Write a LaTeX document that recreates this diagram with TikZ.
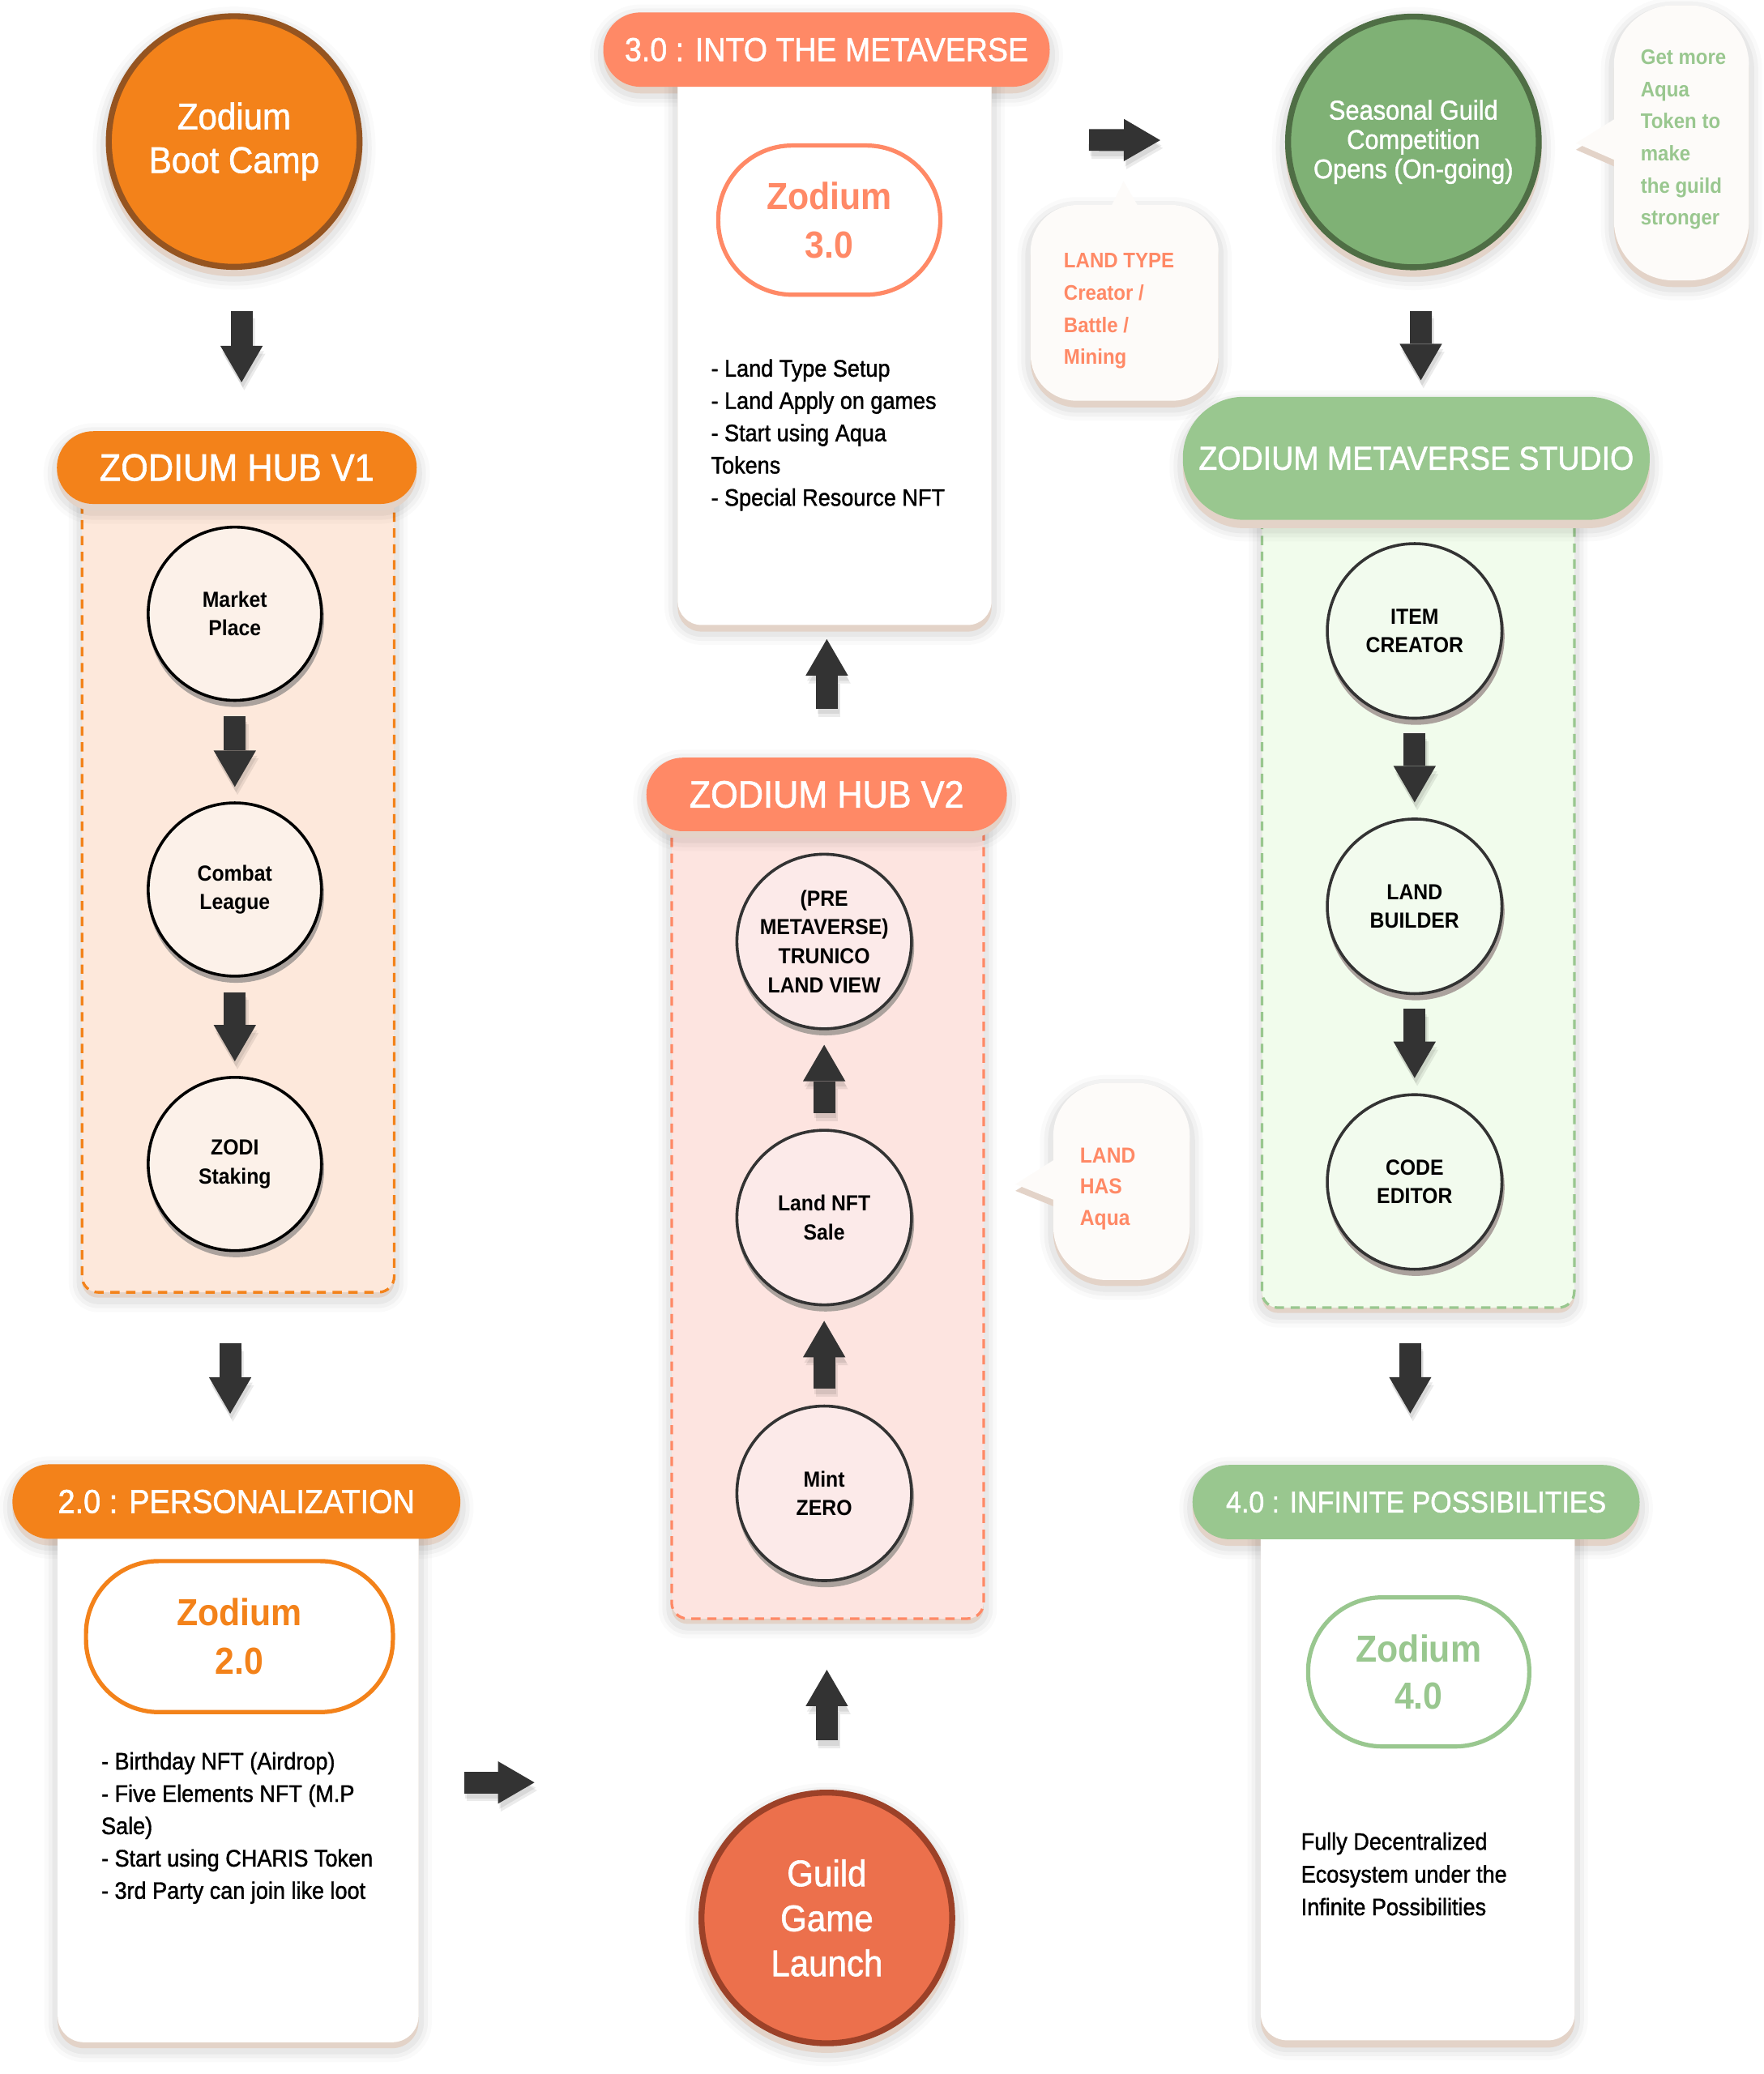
\documentclass[tikz,border=0pt]{standalone}
\usepackage{fontspec}
\setmainfont{Liberation Sans}[FakeStretch=0.92]
\newfontfamily\medfont{Liberation Sans}[FakeStretch=0.92,FakeBold=1.3]
\usetikzlibrary{arrows.meta,calc}

\definecolor{zorange}{HTML}{F3821A}
\definecolor{zbrown}{HTML}{955420}
\definecolor{zbeige}{HTML}{E3D3C8}
\definecolor{zsalmon}{HTML}{FF8966}
\definecolor{zcoral}{HTML}{EC704C}
\definecolor{zcoraldark}{HTML}{9C4128}
\definecolor{zgreen}{HTML}{7FB175}
\definecolor{zgreendark}{HTML}{4F6E45}
\definecolor{zlgreen}{HTML}{99C78F}
\definecolor{zpeach}{HTML}{FDE8DB}
\definecolor{zpink}{HTML}{FDE4E0}
\definecolor{zmint}{HTML}{F1FCEC}
\definecolor{zcirA}{HTML}{FCF1E9}
\definecolor{zcirB}{HTML}{FCEAE9}
\definecolor{zcirC}{HTML}{F2FBEE}
\definecolor{zdark}{HTML}{333333}
\definecolor{zbubble}{HTML}{FDFBF9}
\definecolor{zcshadow}{HTML}{ABA29D}

\newcommand{\softrect}[5]{%
  \foreach \e/\o in {10/0.02,7/0.03,4/0.04}{%
    \pgfmathsetmacro{\rr}{#5+\e}%
    \fill[black,opacity=\o,rounded corners=\rr pt] ({#1-\e},{#2-\e+4}) rectangle ({#3+\e},{#4+\e+5});
  }}
\newcommand{\softcirc}[3]{%
  \foreach \e/\o in {10/0.02,7/0.03,4/0.04}{%
    \fill[black,opacity=\o] (#1,{#2+5}) circle[radius={#3+\e}];
  }}
\newcommand{\barr}[2]{%
  \draw[barrowsh,transform canvas={shift={(2,6)}}] #1 -- #2;
  \draw[barrowsh,transform canvas={shift={(1,4)}}] #1 -- #2;
  \draw[barrow] #1 -- #2;}

\tikzset{
  bigcirc/.style={circle, line width=4.5pt, minimum size=189.5pt, inner sep=0pt, text=white, align=center, font=\medfont\fontsize{28}{33}\selectfont},
  smallcirc/.style={circle, line width=2.2pt, minimum size=131pt, inner sep=0pt, align=center, text=black, font=\bfseries\fontsize{16.5}{21.7}\selectfont},
  zpill/.style={rectangle, inner sep=0pt, text=white},
  dashbox/.style={rectangle, line width=2pt, dash pattern=on 7pt off 5pt, rounded corners=12pt, inner sep=0pt},
  zcard/.style={rectangle, fill=white, rounded corners=20pt, inner sep=0pt},
  stad/.style={rectangle, line width=3.2pt, fill=white, inner sep=0pt, align=center, font=\bfseries\fontsize{28.5}{36.5}\selectfont},
  zbullets/.style={anchor=north west, inner sep=0pt, align=left, text=black, font=\medfont\fontsize{18}{24.45}\selectfont},
  btext/.style={anchor=north west, inner sep=0pt, align=left, font=\bfseries\fontsize{16}{24.3}\selectfont},
  barrow/.style={draw=zdark, line width=16.5pt, -{Triangle[width=32pt,length=27.5pt,line width=0pt]}},
  barrowsh/.style={draw=black, opacity=0.08, line width=16.5pt, -{Triangle[width=32pt,length=27.5pt,line width=0pt]}},
}

\begin{document}
\begin{tikzpicture}[x=1pt,y=-1pt]
\fill[white] (0,0) rectangle (1333,1568);
\useasboundingbox (0,0) rectangle (1333,1568);

% ================= LEFT COLUMN =================
\softcirc{177}{107}{97}
\fill[zbeige] (177,112) circle[radius=97];
\node[bigcirc, draw=zbrown, fill=zorange] (bc) at (177,107) {Zodium\\Boot Camp};

\softrect{62}{360}{298}{977}{12}
\fill[zbeige,rounded corners=12pt] (62,365) rectangle (298,981);
\node[dashbox, draw=zorange, fill=zpeach, minimum width=236pt, minimum height=617pt] (boxone) at (180,668.5) {};
\softrect{43}{326}{315}{381}{27.5}
\fill[zbeige,rounded corners=27.5pt] (43,331) rectangle (315,386);
\node[zpill, fill=zorange, rounded corners=27.5pt, minimum width=272pt, minimum height=55pt, font=\medfont\fontsize{28.8}{34}\selectfont] (hubone) at (179,353.5) {ZODIUM HUB V1};

\fill[zcshadow] (178.5,468) circle[radius=66.5];
\node[smallcirc, draw=black, fill=zcirA] (mp) at (177.5,464) {Market\\Place};
\fill[zcshadow] (178.5,676.5) circle[radius=66.5];
\node[smallcirc, draw=black, fill=zcirA] (cl) at (177.5,672.5) {Combat\\League};
\fill[zcshadow] (178.5,884) circle[radius=66.5];
\node[smallcirc, draw=black, fill=zcirA] (zs) at (177.5,880) {ZODI\\Staking};

\softrect{9.4}{1107}{348}{1163.4}{28.2}
\fill[zbeige,rounded corners=28.2pt] (9.4,1112) rectangle (348,1168.4);
\softrect{43.6}{1135}{316.4}{1544}{20}
\fill[zbeige,rounded corners=20pt] (43.6,1140) rectangle (316.4,1548.5);
\node[zcard, minimum width=272.8pt, minimum height=409pt] (cardtwo) at (180,1339.5) {};
\node[zpill, fill=zorange, rounded corners=28.2pt, minimum width=338.6pt, minimum height=56.4pt, font=\medfont\fontsize{25.2}{30}\selectfont] (ptwo) at (178.7,1135.2) {2.0 : PERSONALIZATION};
\node[stad, draw=zorange, text=zorange, rounded corners=55pt, minimum width=232pt, minimum height=114.2pt] (sttwo) at (181,1237.3) {Zodium\\2.0};
\node[zbullets] (btwo) at (76.4,1324.5) {- Birthday NFT (Airdrop)\\- Five Elements NFT (M.P\\Sale)\\- Start using CHARIS Token\\- 3rd Party can join like loot};

% ================= MIDDLE COLUMN =================
\softcirc{625}{1450}{97}
\fill[zbeige] (625,1455) circle[radius=97];
\node[bigcirc, draw=zcoraldark, fill=zcoral, font=\medfont\fontsize{28}{34}\selectfont] (guild) at (625,1450) {Guild\\Game\\Launch};

\softrect{507.7}{600}{743.5}{1223.7}{12}
\fill[zbeige,rounded corners=12pt] (507.7,605) rectangle (743.5,1227.7);
\node[dashbox, draw=zsalmon, fill=zpink, minimum width=235.8pt, minimum height=623.7pt] (boxtwo) at (625.6,911.85) {};
\softrect{488.6}{572.8}{761.1}{628.4}{27.8}
\fill[zbeige,rounded corners=27.8pt] (488.6,577.8) rectangle (761.1,633.4);
\node[zpill, fill=zsalmon, rounded corners=27.8pt, minimum width=272.5pt, minimum height=55.6pt, font=\medfont\fontsize{28.8}{34}\selectfont] (hubtwo) at (624.85,600.6) {ZODIUM HUB V2};

\fill[zcshadow] (624,715.8) circle[radius=67];
\node[smallcirc, draw=zdark, fill=zcirB, minimum size=132pt, font=\bfseries\fontsize{16.5}{22}\selectfont] (pre) at (623,711.8) {(PRE\\METAVERSE)\\TRUNICO\\LAND VIEW};
\fill[zcshadow] (624,924.5) circle[radius=67];
\node[smallcirc, draw=zdark, fill=zcirB, minimum size=132pt] (lnft) at (623,920.5) {Land NFT\\Sale};
\fill[zcshadow] (624,1133) circle[radius=67];
\node[smallcirc, draw=zdark, fill=zcirB, minimum size=132pt] (mint) at (623,1129) {Mint\\ZERO};

\softrect{456}{9.4}{793.5}{65.6}{28.1}
\fill[zbeige,rounded corners=28.1pt] (456,14.4) rectangle (793.5,70.6);
\softrect{512.3}{37}{749.5}{472.5}{18}
\fill[zbeige,rounded corners=18pt] (512.3,42) rectangle (749.5,477.5);
\node[zcard, rounded corners=18pt, minimum width=237.2pt, minimum height=435.5pt] (cardthree) at (630.9,254.75) {};
\node[zpill, fill=zsalmon, rounded corners=28.1pt, minimum width=337.5pt, minimum height=56.2pt, font=\medfont\fontsize{25}{30}\selectfont] (pthree) at (624.75,37.5) {3.0 : INTO THE METAVERSE};
\node[stad, draw=zsalmon, text=zsalmon, rounded corners=56pt, minimum width=167.9pt, minimum height=112.8pt] (stthree) at (626.85,166.4) {Zodium\\3.0};
\node[zbullets, font=\medfont\fontsize{18}{24.4}\selectfont] (bthree) at (537.3,271.5) {- Land Type Setup\\- Land Apply on games\\- Start using Aqua\\Tokens\\- Special Resource NFT};

\softrect{779}{155}{921}{303}{35}
\fill[zbeige,rounded corners=35pt] (779,160) rectangle (921,308);
\fill[zbubble,rounded corners=35pt] (779,155) rectangle (921,303);
\fill[zbubble] (838,160) -- (849.3,137) -- (862.6,160) -- cycle;
\node[btext, text=zsalmon] (landtype) at (804,191.5) {LAND TYPE\\Creator /\\Battle /\\Mining};

\softrect{796.2}{818.7}{899.3}{967.7}{40}
\fill[zbeige] (800,879.8) -- (767.6,900.3) -- (800,913.5) -- cycle;
\fill[zbeige,rounded corners=40pt] (796.2,823.7) rectangle (899.3,972.2);
\fill[zbubble,rounded corners=40pt] (796.2,818.7) rectangle (899.3,967.7);
\fill[zbubble] (800,874.8) -- (767.6,895.3) -- (800,908.5) -- cycle;
\node[btext, text=zsalmon, font=\bfseries\fontsize{16.4}{23.8}\selectfont] (landhas) at (816.2,867.5) {LAND\\HAS\\Aqua};

% ================= RIGHT COLUMN =================
\softcirc{1068.4}{107.3}{97}
\fill[zbeige] (1068.4,112.3) circle[radius=97];
\node[bigcirc, draw=zgreendark, fill=zgreen, font=\medfont\fontsize{20.5}{22.2}\selectfont] (sg) at (1068.4,107.3) {Seasonal Guild\\Competition\\Opens (On-going)};

\softrect{1220}{4}{1322}{212}{45}
\fill[zbeige] (1224,92.8) -- (1191.3,113.2) -- (1224,127.5) -- cycle;
\fill[zbeige,rounded corners=45pt] (1220,9) rectangle (1322,217);
\fill[zbubble,rounded corners=45pt] (1220,4) rectangle (1322,212);
\fill[zbubble] (1224,87.8) -- (1191.3,108.2) -- (1224,122.5) -- cycle;
\node[btext, text=zlgreen] (getmore) at (1240,37.4) {Get more\\Aqua\\Token to\\make\\the guild\\stronger};

\softrect{953.9}{348}{1190}{988.6}{12}
\fill[zbeige,rounded corners=12pt] (953.9,353) rectangle (1190,992.6);
\node[dashbox, draw=zlgreen, fill=zmint, minimum width=236.1pt, minimum height=640.6pt] (boxthree) at (1071.95,668.3) {};
\softrect{894.1}{301.3}{1247}{394.3}{46}
\fill[zbeige,rounded corners=46pt] (894.1,306.3) rectangle (1247,399.3);
\node[zpill, fill=zlgreen, rounded corners=46pt, minimum width=352.9pt, minimum height=93pt, font=\medfont\fontsize{25}{30}\selectfont] (studio) at (1070.55,346.5) {ZODIUM METAVERSE STUDIO};

\fill[zcshadow] (1070.3,481) circle[radius=67];
\node[smallcirc, draw=zdark, fill=zcirC, minimum size=132pt] (item) at (1069.3,477) {ITEM\\CREATOR};
\fill[zcshadow] (1070.3,689.2) circle[radius=67];
\node[smallcirc, draw=zdark, fill=zcirC, minimum size=132pt] (lb) at (1069.3,685.2) {LAND\\BUILDER};
\fill[zcshadow] (1070.3,897.6) circle[radius=67];
\node[smallcirc, draw=zdark, fill=zcirC, minimum size=132pt] (ce) at (1069.3,893.6) {CODE\\EDITOR};

\softrect{901.4}{1107.5}{1239.4}{1163.7}{28.1}
\fill[zbeige,rounded corners=28.1pt] (901.4,1112.5) rectangle (1239.4,1168.7);
\softrect{953}{1135}{1190.3}{1542.5}{20}
\fill[zbeige,rounded corners=20pt] (953,1140) rectangle (1190.3,1548);
\node[zcard, minimum width=237.3pt, minimum height=407.5pt] (cardfour) at (1071.65,1338.75) {};
\node[zpill, fill=zlgreen, rounded corners=28.1pt, minimum width=338pt, minimum height=56.2pt, font=\medfont\fontsize{22.6}{28}\selectfont] (pfour) at (1070.4,1135.6) {4.0 : INFINITE POSSIBILITIES};
\node[stad, draw=zlgreen, text=zlgreen, rounded corners=56pt, minimum width=167.2pt, minimum height=112.7pt, font=\bfseries\fontsize{28.5}{35.7}\selectfont] (stfour) at (1072.4,1264) {Zodium\\4.0};
\node[zbullets, font=\medfont\fontsize{18}{24.75}\selectfont] (bfour) at (983.3,1385.2) {Fully Decentralized\\Ecosystem under the\\Infinite Possibilities};

% ================= ARROWS =================
\barr{($(bc.south)+(5.6,31)$)}{($(hubone.north)+(3.6,-36.8)$)}
\barr{($(mp.south)+(0,11)$)}{($(cl.north)+(0,-11)$)}
\barr{($(cl.south)+(0,11)$)}{($(zs.north)+(0,-11)$)}
\barr{($(boxone.south)+(-6,37.5)$)}{($(ptwo.north)+(-4.7,-38)$)}
\barr{($(cardtwo.east)+(34.1,8.1)$)}{($(guild.west)+(-124,-102.4)$)}
\barr{($(guild.north)+(0,-37.3)$)}{($(boxtwo.south)+(-0.6,37.7)$)}
\barr{($(lnft.north)+(0,-12)$)}{($(pre.south)+(0,11)$)}
\barr{($(mint.north)+(0,-12)$)}{($(lnft.south)+(0,11)$)}
\barr{($(hubtwo.north)+(0.15,-36.8)$)}{($(cardthree.south)+(-5.9,10.5)$)}
\barr{($(cardthree.north east)+(73.5,69)$)}{($(sg.west)+(-94.4,-1.3)$)}
\barr{($(sg.south)+(5.6,30.7)$)}{($(studio.north)+(3.45,-12.3)$)}
\barr{($(item.south)+(0,10.5)$)}{($(lb.north)+(0,-11.5)$)}
\barr{($(lb.south)+(0,10.5)$)}{($(ce.north)+(0,-11.5)$)}
\barr{($(boxthree.south)+(-5.95,26)$)}{($(pfour.north)+(-4.4,-38.7)$)}

\end{tikzpicture}
\end{document}
